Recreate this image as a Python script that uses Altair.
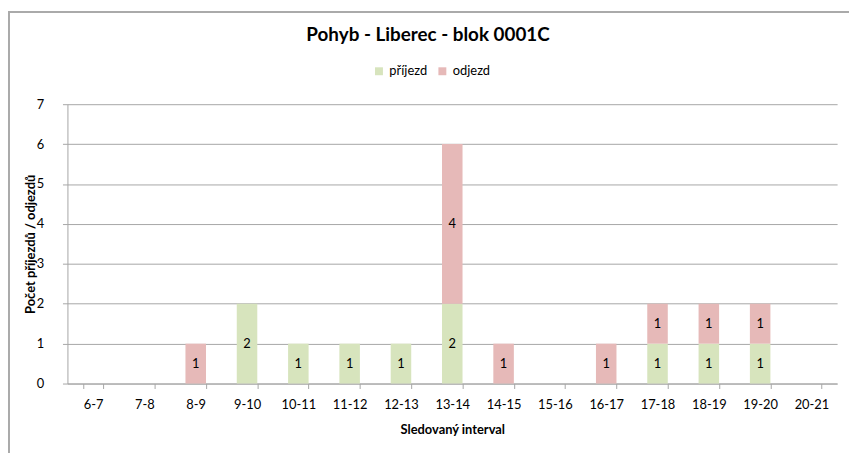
import altair as alt
import pandas as pd

categories = ["6-7", "7-8", "8-9", "9-10", "10-11", "11-12", "12-13", "13-14",
              "14-15", "15-16", "16-17", "17-18", "18-19", "19-20", "20-21"]
prijezd = [0, 0, 0, 2, 1, 1, 1, 2, 0, 0, 0, 1, 1, 1, 0]
odjezd = [0, 0, 1, 0, 0, 0, 0, 4, 1, 0, 1, 1, 1, 1, 0]
series_names = ["příjezd", "odjezd"]
series_colors = ["#d7e4bd", "#e6b9b8"]
title_text = "Pohyb - Liberec - blok 0001C"

rows = []
for i, c in enumerate(categories):
    rows.append({"interval": c, "series": series_names[0], "count": prijezd[i], "ord": 0})
    rows.append({"interval": c, "series": series_names[1], "count": odjezd[i], "ord": 1})
df = pd.DataFrame(rows)

FONT = "Lato"
GRID = "#a6a6a6"

base = alt.Chart(df).transform_filter(
    alt.datum.count > 0
).transform_stack(
    stack="count", groupby=["interval"], as_=["y0", "y1"],
    sort=[alt.SortField("ord", order="ascending")]
).transform_calculate(
    mid="(datum.y0 + datum.y1) / 2"
)

xenc = alt.X("interval:N", sort=categories,
             scale=alt.Scale(domain=categories, paddingInner=0.6, paddingOuter=0.3),
             axis=alt.Axis(title="Sledovaný interval", labelAngle=0, tickBand="extent",
                           tickSize=5, tickColor=GRID, domainColor=GRID,
                           labelPadding=10, labelFontSize=13, labelColor="#000000",
                           titleFontSize=13, titleFontWeight="bold", titleColor="#000000",
                           titleY=46, titleBaseline="middle"))

bars = base.mark_bar().encode(
    x=xenc,
    y=alt.Y("y0:Q", scale=alt.Scale(domain=[0, 7], nice=False),
            axis=alt.Axis(title="Počet příjezdů / odjezdů", values=list(range(8)),
                          grid=True, gridColor=GRID, domainColor=GRID, tickColor=GRID,
                          tickSize=5, labelPadding=19, labelFontSize=13,
                          labelColor="#000000", titleFontSize=13, titleFontWeight="bold",
                          titleColor="#000000", titleAngle=270, titleX=-37, titleY=141,
                          titleBaseline="middle", titleAlign="center")),
    y2="y1:Q",
    color=alt.Color("series:N", scale=alt.Scale(domain=series_names, range=series_colors),
                    legend=alt.Legend(title=None, orient="none", direction="horizontal",
                                      legendX=308, legendY=-40, symbolType="square",
                                      symbolSize=64, symbolStrokeWidth=0, labelFontSize=13,
                                      labelColor="#000000", labelOffset=4, columnPadding=8)),
)

labels = base.mark_text(fontSize=13, color="#000000", font=FONT).encode(
    x=alt.X("interval:N", sort=categories),
    y=alt.Y("mid:Q"),
    text=alt.Text("count:Q"),
)

frame_df = pd.DataFrame({"k": [0]})
top_line = alt.Chart(frame_df).mark_rule(color="#aaaaaa", strokeWidth=2, clip=False).encode(
    x=alt.value(-59), x2=alt.value(790), y=alt.value(-93))
left_line = alt.Chart(frame_df).mark_rule(color="#aaaaaa", strokeWidth=2, clip=False).encode(
    x=alt.value(-59), y=alt.value(-94), y2=alt.value(352))
title_mark = alt.Chart(frame_df).mark_text(
    text=title_text, font=FONT, fontSize=19, fontWeight="bold", color="#000000",
    align="center", baseline="alphabetic", clip=False
).encode(x=alt.value(364), y=alt.value(-64))

chart = alt.layer(bars, labels, top_line, left_line, title_mark).properties(
    width=777, height=282,
    autosize=alt.AutoSizeParams(type="none"),
    padding={"left": 60, "top": 95, "right": 12, "bottom": 69},
).configure(font=FONT).configure_view(stroke=None).configure_axis(
    labelFont=FONT, titleFont=FONT
).configure_legend(labelFont=FONT)

chart.save("out.html", embed_options={"renderer": "svg", "actions": False})
